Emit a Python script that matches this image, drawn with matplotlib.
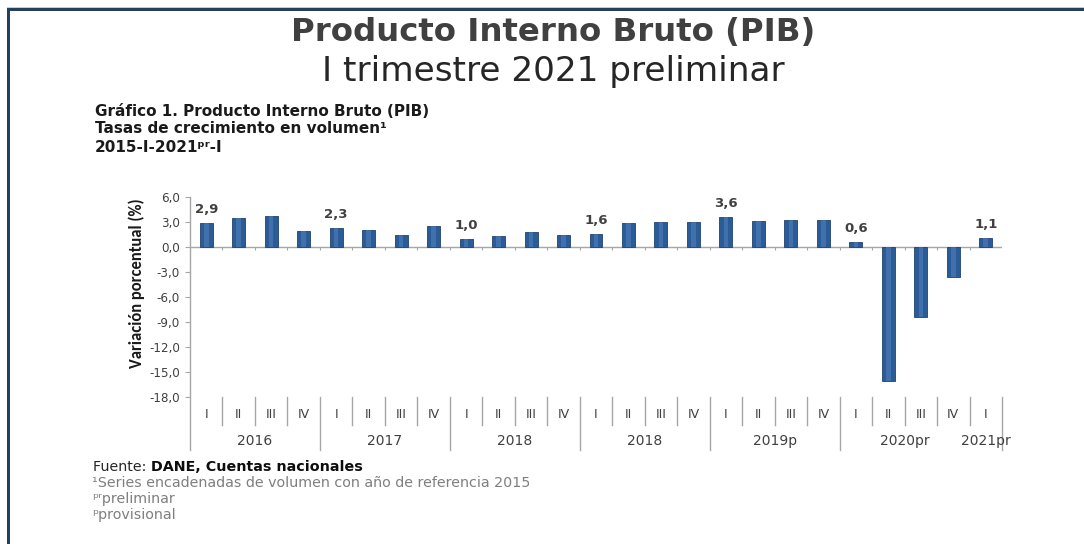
import matplotlib
matplotlib.use("Agg")
import matplotlib.pyplot as plt
from matplotlib import font_manager
from matplotlib.patches import Rectangle
from matplotlib.lines import Line2D
import matplotlib.transforms as mtransforms

# ---------------- data ----------------
quarters = ["I", "II", "III", "IV"] * 6 + ["I"]
years = ["2016", "2017", "2018", "2018", "2019p", "2020pr", "2021pr"]
year_sizes = [4, 4, 4, 4, 4, 4, 1]
values = [2.9, 3.5, 3.8, 1.9,
          2.3, 2.1, 1.5, 2.5,
          1.0, 1.3, 1.8, 1.5,
          1.6, 2.9, 3.0, 3.0,
          3.6, 3.2, 3.3, 3.3,
          0.6, -16.0, -8.4, -3.6,
          1.1]
labeled_idx = [0, 4, 8, 12, 16, 20, 24]
yticks = [6, 3, 0, -3, -6, -9, -12, -15, -18]

title = "Producto Interno Bruto (PIB)"
subtitle = "I trimestre 2021 preliminar"
heading = ["Gráfico 1. Producto Interno Bruto (PIB)",
           "Tasas de crecimiento en volumen¹",
           "2015-I-2021ᵖʳ-I"]
ylabel = "Variación porcentual (%)"
source_lbl = "Fuente: "
source_val = "DANE, Cuentas nacionales"
notes = ["¹Series encadenadas de volumen con año de referencia 2015",
         "ᵖʳpreliminar",
         "ᵖprovisional"]


def pick(cands):
    names = {f.name for f in font_manager.fontManager.ttflist}
    for c in cands:
        if c in names:
            return c
    return "DejaVu Sans"


narrow_font = pick(["Liberation Sans Narrow", "Carlito", "Roboto Condensed", "Lato"])
body_font = "DejaVu Sans"

W, H = 1084, 544
fig = plt.figure(figsize=(W / 100, H / 100), dpi=100)
fig.patch.set_facecolor("white")
renderer = fig.canvas.get_renderer()


def fx(px):
    return px / W


def fy(py):
    return 1 - py / H


def fit(txt, target_px, horizontal=True):
    """Scale the font size of a text so its extent matches target_px."""
    txt.set_fontsize(10)
    bb = txt.get_window_extent(renderer)
    size = bb.width if horizontal else bb.height
    txt.set_fontsize(10 * target_px / size)
    return txt.get_fontsize()


# frame
fig.add_artist(Rectangle((fx(7), fy(7.5)), 1, 0.8 / H, transform=fig.transFigure,
                         facecolor="#C8CCD2", edgecolor="none"))
fig.add_artist(Rectangle((fx(7), fy(11)), 1, 3.2 / H, transform=fig.transFigure,
                         facecolor="#243F60", edgecolor="none"))
fig.add_artist(Rectangle((fx(7), 0), 3.2 / W, fy(8), transform=fig.transFigure,
                         facecolor="#243F60", edgecolor="none"))

# titles
t = fig.text(fx(553), fy(32), title, ha="center", va="center",
             fontweight="bold", color="#404040", family=body_font)
fit(t, 525)
t = fig.text(fx(553), fy(71), subtitle, ha="center", va="center",
             color="#262626", family=body_font)
fit(t, 462)

h0 = fig.text(fx(95), fy(112), heading[0], ha="left", va="center",
              fontweight="bold", color="#1A1A1A", family=body_font)
hs = fit(h0, 337)
for line, y in zip(heading[1:], [129, 147]):
    fig.text(fx(95), fy(y), line, ha="left", va="center", fontsize=hs,
             fontweight="bold", color="#1A1A1A", family=body_font)

# axes
y_top, y_bot = 197.3, 397.3
ax = fig.add_axes([fx(190), fy(y_bot), fx(1002) - fx(190), (y_bot - y_top) / H])
n = len(values)
x = list(range(n))
ax.set_xlim(-0.5, n - 0.5)
ax.set_ylim(-18, 6)
for s in ax.spines.values():
    s.set_visible(False)
ax.set_xticks([])
ax.set_yticks(yticks)
ax.set_yticklabels([f"{v:.1f}".replace(".", ",") for v in yticks])
ax.tick_params(axis="y", length=3.6, width=0.8, color="#A6A6A6", pad=3.6,
               labelsize=8.6, labelcolor="#404040")
for lbl in ax.get_yticklabels():
    lbl.set_family(body_font)

ax.axhline(0, color="#A6A6A6", lw=1.0, zorder=2)
ax.vlines([k + 0.5 for k in range(n - 1)], -0.35, 0.0, color="#A6A6A6", lw=0.8, zorder=2)

ax.bar(x, values, width=0.4, color="#2C5C97", edgecolor="#1E426F", linewidth=0.6, zorder=3)
ax.bar(x, values, width=0.14, color="#5B8BC6", alpha=0.45, linewidth=0, zorder=4)

for i in labeled_idx:
    v = values[i]
    ax.annotate(f"{v:.1f}".replace(".", ","), (i, max(v, 0)), xytext=(0, 10),
                textcoords="offset points", ha="center", va="center", fontsize=9.5,
                fontweight="bold", color="#404040", family=body_font)

# category axis below
bt = mtransforms.blended_transform_factory(ax.transData, fig.transFigure)
group_bounds = [-0.5]
for sz in year_sizes:
    group_bounds.append(group_bounds[-1] + sz)
long_bounds = group_bounds[:-2] + [group_bounds[-1]]
short_bounds = [k + 0.5 for k in range(-1, n) if (k + 0.5) not in long_bounds and -0.5 <= k + 0.5 <= n - 0.5]

ax.add_line(Line2D([-0.5, -0.5], [fy(y_top), fy(450)], transform=bt, color="#A6A6A6",
                   lw=1.0, clip_on=False))
for b in long_bounds[1:]:
    ax.add_line(Line2D([b, b], [fy(y_bot), fy(450)], transform=bt, color="#A6A6A6",
                       lw=1.0, clip_on=False))
for b in short_bounds:
    ax.add_line(Line2D([b, b], [fy(y_bot), fy(425)], transform=bt, color="#A6A6A6",
                       lw=1.0, clip_on=False))

for i, q in enumerate(quarters):
    ax.text(i, fy(414), q, transform=bt, ha="center", va="center", fontsize=9,
            color="#404040", family=body_font)
for k, yr in enumerate(years):
    c = (group_bounds[k] + group_bounds[k + 1]) / 2
    ax.text(c, fy(441), yr, transform=bt, ha="center", va="center", fontsize=10,
            color="#404040", family=body_font)

yl = fig.text(fx(137), fy(283), ylabel, rotation=90, ha="center", va="center",
              fontweight="bold", color="#1A1A1A", family=narrow_font,
              fontstretch="condensed")
fit(yl, 170, horizontal=False)

# footer
t1 = fig.text(fx(93), fy(467), source_lbl, ha="left", va="center",
              color="#262626", family=body_font)
n0 = fig.text(fx(92), fy(483), notes[0], ha="left", va="center",
              color="#7F7F7F", family=body_font)
fs = fit(n0, 440)
t1.set_fontsize(fs)
x1 = t1.get_window_extent(renderer).x1
fig.text(x1 / W, fy(467), source_val, ha="left", va="center", fontsize=fs,
         fontweight="bold", color="#0D0D0D", family=body_font)
for line, y in zip(notes[1:], [499, 515]):
    fig.text(fx(92), fy(y), line, ha="left", va="center", fontsize=fs,
             color="#7F7F7F", family=body_font)

fig.savefig("out.png", dpi=100, facecolor="white")
